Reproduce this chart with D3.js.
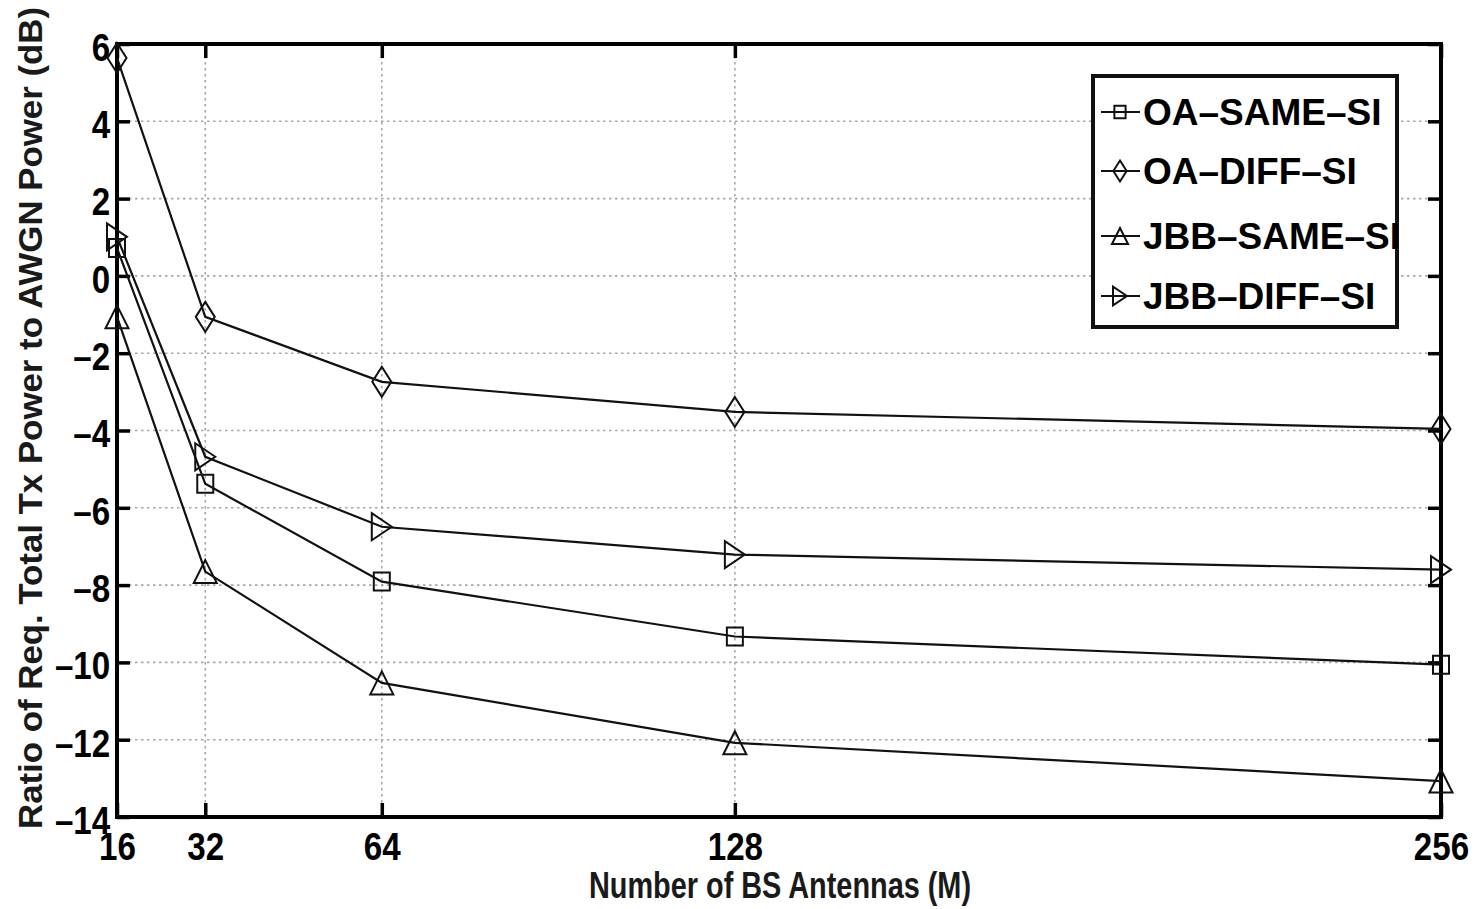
<!DOCTYPE html>
<html lang="en">
<head>
    <meta charset="UTF-8">
    <title>Tx Power vs BS Antennas</title>
    <script src="https://d3js.org/d3.v7.min.js"></script>
    <style>
        body {
            margin: 0;
            padding: 0;
            background: #fff;
            overflow: hidden;
        }
        text {
            font-family: 'Liberation Sans', Arial, sans-serif;
            font-weight: bold;
        }
    </style>
</head>
<body>
    <div id="chart"></div>
    <script>
        // values
        const antennas = [16, 32, 64, 128, 256];
        const oaSame = [0.72, -5.38, -7.91, -9.33, -10.06];
        const oaDiff = [5.64, -1.06, -2.74, -3.52, -3.96];
        const jbbSame = [-1.06, -7.65, -10.53, -12.08, -13.07];
        const jbbDiff = [1.01, -4.68, -6.49, -7.21, -7.6];

        const seriesNames = ['OA–SAME–SI', 'OA–DIFF–SI', 'JBB–SAME–SI', 'JBB–DIFF–SI'];
        const seriesMarkers = ['square', 'diamond', 'triUp', 'triRight'];
        const xTicks = [16, 32, 64, 128, 256];
        const yTicks = [-14, -12, -10, -8, -6, -4, -2, 0, 2, 4, 6];

        const width = 1483, height = 909;
        const plotLeft = 117, plotRight = 1441, plotTop = 44, plotBottom = 817;

        const svg = d3.select('#chart')
            .append('svg')
            .attr('width', width)
            .attr('height', height);

        const x = d3.scaleLinear().domain([16, 256]).range([plotLeft, plotRight]);
        const y = d3.scaleLinear().domain([-14, 6]).range([plotBottom, plotTop]);

        const dash = v => (v < 0 ? '–' + Math.abs(v) : String(v));

        // grid
        const grid = svg.append('g')
            .attr('stroke', '#a8a8a8')
            .attr('stroke-width', 1.6)
            .attr('stroke-dasharray', '2.5,3.5');
        grid.selectAll('.gx')
            .data(xTicks.slice(1, -1))
            .join('line')
            .attr('x1', d => x(d)).attr('x2', d => x(d))
            .attr('y1', plotTop).attr('y2', plotBottom);
        grid.selectAll('.gy')
            .data(yTicks.slice(1, -1))
            .join('line')
            .attr('x1', plotLeft).attr('x2', plotRight)
            .attr('y1', d => y(d)).attr('y2', d => y(d));

        // axes (ticks point inward)
        function styleAxis(g) {
            g.select('.domain').remove();
            g.selectAll('.tick line').attr('stroke', '#000').attr('stroke-width', 3.5);
            g.selectAll('.tick text')
                .attr('fill', '#000')
                .style('font-size', '39px')
                .attr('transform', 'scale(0.85,1)');
        }

        svg.append('g')
            .attr('transform', `translate(${plotLeft},0)`)
            .call(d3.axisLeft(y).tickValues(yTicks).tickSize(-13).tickPadding(8).tickFormat(dash))
            .call(styleAxis)
            .selectAll('.tick text').attr('dy', '0.42em');

        svg.append('g')
            .attr('transform', `translate(${plotRight},0)`)
            .call(d3.axisRight(y).tickValues(yTicks).tickSize(-13).tickFormat(''))
            .call(styleAxis);

        svg.append('g')
            .attr('transform', `translate(0,${plotBottom})`)
            .call(d3.axisBottom(x).tickValues(xTicks).tickSize(-14).tickPadding(14).tickFormat(d3.format('d')))
            .call(styleAxis)
            .selectAll('.tick text').attr('dy', '0.75em');

        svg.append('g')
            .attr('transform', `translate(0,${plotTop})`)
            .call(d3.axisTop(x).tickValues(xTicks).tickSize(-14).tickFormat(''))
            .call(styleAxis);

        // frame
        svg.append('rect')
            .attr('x', plotLeft).attr('y', plotTop)
            .attr('width', plotRight - plotLeft).attr('height', plotBottom - plotTop)
            .attr('fill', 'none')
            .attr('stroke', '#000')
            .attr('stroke-width', 4);

        // marker shapes (w = half width, h = half height)
        function markerPath(type, w, h) {
            if (type === 'square') return `M${-w},${-h}H${w}V${h}H${-w}Z`;
            if (type === 'diamond') return `M0,${-h}L${w},0L0,${h}L${-w},0Z`;
            if (type === 'triUp') return `M0,${-h}L${w},${h}L${-w},${h}Z`;
            return `M${w},0L${-w},${-h}L${-w},${h}Z`;
        }
        const markerSize = {
            square: [8, 9],
            diamond: [9.5, 15],
            triUp: [11.5, 11.5],
            triRight: [10, 13.5]
        };

        const allSeries = [oaSame, oaDiff, jbbSame, jbbDiff];
        const line = d3.line().x((d, i) => x(antennas[i])).y(d => y(d));

        allSeries.forEach((vals, s) => {
            const g = svg.append('g');
            g.append('path')
                .attr('d', line(vals))
                .attr('fill', 'none')
                .attr('stroke', '#111')
                .attr('stroke-width', 2.2);
            const [mw, mh] = markerSize[seriesMarkers[s]];
            g.selectAll('path.mk')
                .data(vals)
                .join('path')
                .attr('class', 'mk')
                .attr('transform', (d, i) => `translate(${x(antennas[i])},${y(d)})`)
                .attr('d', markerPath(seriesMarkers[s], mw, mh))
                .attr('fill', 'none')
                .attr('stroke', '#111')
                .attr('stroke-width', 2);
        });

        // legend
        const legend = svg.append('g');
        legend.append('rect')
            .attr('x', 1093).attr('y', 76)
            .attr('width', 304).attr('height', 251)
            .attr('fill', '#fff')
            .attr('stroke', '#111')
            .attr('stroke-width', 4);

        const rowY = [112, 171, 236, 296];
        seriesNames.forEach((name, s) => {
            const row = legend.append('g').attr('transform', `translate(0,${rowY[s]})`);
            row.append('line')
                .attr('x1', 1101).attr('x2', 1140)
                .attr('y1', 0).attr('y2', 0)
                .attr('stroke', '#111').attr('stroke-width', 2);
            const [mw, mh] = markerSize[seriesMarkers[s]];
            row.append('path')
                .attr('transform', 'translate(1120,0)')
                .attr('d', markerPath(seriesMarkers[s], mw * 0.7, mh * 0.7))
                .attr('fill', 'none')
                .attr('stroke', '#111')
                .attr('stroke-width', 2);
            row.append('text')
                .attr('x', 1143)
                .attr('y', 0)
                .attr('dy', '0.36em')
                .attr('fill', '#000')
                .style('font-size', '37px')
                .text(name);
        });

        // axis titles
        svg.append('text')
            .attr('x', 780)
            .attr('y', 898)
            .attr('text-anchor', 'middle')
            .attr('fill', '#1a1a1a')
            .attr('textLength', 382)
            .attr('lengthAdjust', 'spacingAndGlyphs')
            .style('font-size', '36px')
            .text('Number of BS Antennas (M)');

        svg.append('text')
            .attr('transform', 'translate(42,418) rotate(-90)')
            .attr('text-anchor', 'middle')
            .attr('fill', '#1a1a1a')
            .attr('textLength', 822)
            .attr('lengthAdjust', 'spacingAndGlyphs')
            .style('font-size', '34px')
            .text('Ratio of Req. Total Tx Power to AWGN Power (dB)');
    </script>
</body>
</html>
